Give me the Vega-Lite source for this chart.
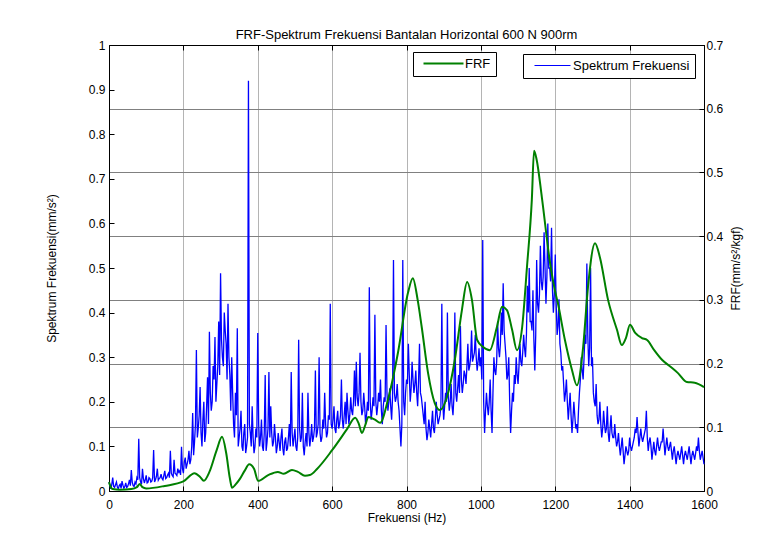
{
  "$schema": "https://vega.github.io/schema/vega-lite/v6.json",
  "width": 595,
  "height": 446,
  "autosize": "none",
  "padding": {"left": 109, "top": 45, "right": 77, "bottom": 59},
  "background": "white",
  "config": {
    "font": "Liberation Sans",
    "view": {"stroke": "black", "strokeWidth": 1},
    "axis": {"labelColor": "black", "titleColor": "black", "labelFontSize": 12, "titleFontSize": 12, "titleFontWeight": "normal", "tickColor": "black", "domainColor": "black", "tickSize": -5, "labelPadding": 9}
  },
  "title": {"text": "FRF-Spektrum Frekuensi Bantalan Horizontal 600 N 900rm", "fontSize": 13, "fontWeight": "normal", "color": "black", "offset": -3, "anchor": "middle"},
  "datasets": {
    "spec": [
{"f":0,"s":0.02},{"f":5,"s":0.005},{"f":10,"s":0.03},{"f":15,"s":0.008},{"f":20,"s":0.02},{"f":25,"s":0.005},{"f":30,"s":0.015},{"f":35,"s":0.022},{"f":40,"s":0.006},{"f":45,"s":0.018},
{"f":50,"s":0.01},{"f":55,"s":0.025},{"f":60,"s":0.047},{"f":65,"s":0.012},{"f":70,"s":0.02},{"f":75,"s":0.03},{"f":80,"s":0.117},{"f":85,"s":0.02},{"f":90,"s":0.05},{"f":95,"s":0.018},
{"f":100,"s":0.035},{"f":105,"s":0.02},{"f":110,"s":0.028},{"f":115,"s":0.022},{"f":120,"s":0.092},{"f":125,"s":0.025},{"f":130,"s":0.05},{"f":135,"s":0.028},{"f":140,"s":0.038},{"f":145,"s":0.025},
{"f":150,"s":0.045},{"f":155,"s":0.03},{"f":160,"s":0.04},{"f":165,"s":0.09},{"f":170,"s":0.035},{"f":175,"s":0.07},{"f":180,"s":0.038},{"f":185,"s":0.05},{"f":190,"s":0.045},{"f":195,"s":0.099},
{"f":200,"s":0.04},{"f":205,"s":0.075},{"f":210,"s":0.06},{"f":215,"s":0.09},{"f":220,"s":0.07},{"f":225,"s":0.175},{"f":230,"s":0.11},{"f":235,"s":0.316},{"f":240,"s":0.14},{"f":245,"s":0.233},
{"f":250,"s":0.1},{"f":255,"s":0.2},{"f":260,"s":0.13},{"f":265,"s":0.255},{"f":270,"s":0.357},{"f":275,"s":0.18},{"f":280,"s":0.28},{"f":285,"s":0.345},{"f":290,"s":0.24},{"f":295,"s":0.38},
{"f":300,"s":0.488},{"f":305,"s":0.3},{"f":310,"s":0.4},{"f":315,"s":0.33},{"f":320,"s":0.42},{"f":325,"s":0.26},{"f":330,"s":0.3},{"f":335,"s":0.15},{"f":340,"s":0.22},{"f":345,"s":0.365},
{"f":350,"s":0.12},{"f":355,"s":0.18},{"f":360,"s":0.09},{"f":365,"s":0.15},{"f":370,"s":0.1},{"f":375,"s":0.92},{"f":380,"s":0.13},{"f":385,"s":0.19},{"f":390,"s":0.085},{"f":395,"s":0.14},
{"f":400,"s":0.354},{"f":405,"s":0.1},{"f":410,"s":0.16},{"f":415,"s":0.09},{"f":420,"s":0.26},{"f":425,"s":0.11},{"f":430,"s":0.267},{"f":435,"s":0.19},{"f":440,"s":0.1},{"f":445,"s":0.15},
{"f":450,"s":0.085},{"f":455,"s":0.13},{"f":460,"s":0.09},{"f":465,"s":0.14},{"f":470,"s":0.08},{"f":475,"s":0.12},{"f":480,"s":0.095},{"f":485,"s":0.15},{"f":490,"s":0.267},{"f":495,"s":0.1},
{"f":500,"s":0.14},{"f":505,"s":0.09},{"f":510,"s":0.339},{"f":515,"s":0.11},{"f":520,"s":0.22},{"f":525,"s":0.08},{"f":530,"s":0.13},{"f":535,"s":0.22},{"f":540,"s":0.1},{"f":545,"s":0.15},
{"f":550,"s":0.12},{"f":555,"s":0.27},{"f":560,"s":0.13},{"f":565,"s":0.3},{"f":570,"s":0.11},{"f":575,"s":0.16},{"f":580,"s":0.22},{"f":585,"s":0.12},{"f":590,"s":0.17},{"f":595,"s":0.42},
{"f":600,"s":0.14},{"f":605,"s":0.19},{"f":610,"s":0.13},{"f":615,"s":0.18},{"f":620,"s":0.15},{"f":625,"s":0.25},{"f":630,"s":0.14},{"f":635,"s":0.2},{"f":640,"s":0.22},{"f":645,"s":0.15},
{"f":650,"s":0.21},{"f":655,"s":0.17},{"f":660,"s":0.27},{"f":665,"s":0.29},{"f":670,"s":0.19},{"f":675,"s":0.31},{"f":680,"s":0.17},{"f":685,"s":0.22},{"f":690,"s":0.15},{"f":695,"s":0.2},
{"f":700,"s":0.457},{"f":705,"s":0.16},{"f":710,"s":0.21},{"f":715,"s":0.395},{"f":720,"s":0.17},{"f":725,"s":0.22},{"f":730,"s":0.25},{"f":735,"s":0.15},{"f":740,"s":0.21},{"f":745,"s":0.372},
{"f":750,"s":0.18},{"f":755,"s":0.23},{"f":760,"s":0.16},{"f":765,"s":0.518},{"f":770,"s":0.2},{"f":775,"s":0.24},{"f":780,"s":0.18},{"f":785,"s":0.1},{"f":790,"s":0.518},{"f":795,"s":0.17},
{"f":800,"s":0.25},{"f":805,"s":0.33},{"f":810,"s":0.2},{"f":815,"s":0.29},{"f":820,"s":0.22},{"f":825,"s":0.27},{"f":830,"s":0.19},{"f":835,"s":0.33},{"f":840,"s":0.21},{"f":845,"s":0.17},
{"f":850,"s":0.2},{"f":855,"s":0.114},{"f":860,"s":0.16},{"f":865,"s":0.12},{"f":870,"s":0.18},{"f":875,"s":0.13},{"f":880,"s":0.2},{"f":885,"s":0.15},{"f":890,"s":0.17},{"f":895,"s":0.42},
{"f":900,"s":0.16},{"f":905,"s":0.22},{"f":910,"s":0.4},{"f":915,"s":0.18},{"f":920,"s":0.24},{"f":925,"s":0.17},{"f":930,"s":0.4},{"f":935,"s":0.2},{"f":940,"s":0.26},{"f":945,"s":0.37},
{"f":950,"s":0.22},{"f":955,"s":0.27},{"f":960,"s":0.24},{"f":965,"s":0.33},{"f":970,"s":0.28},{"f":975,"s":0.36},{"f":980,"s":0.3},{"f":985,"s":0.35},{"f":990,"s":0.27},{"f":995,"s":0.32},
{"f":1000,"s":0.3},{"f":1005,"s":0.563},{"f":1010,"s":0.13},{"f":1015,"s":0.22},{"f":1020,"s":0.17},{"f":1025,"s":0.25},{"f":1030,"s":0.13},{"f":1035,"s":0.3},{"f":1040,"s":0.26},{"f":1045,"s":0.38},
{"f":1050,"s":0.3},{"f":1055,"s":0.4},{"f":1060,"s":0.466},{"f":1065,"s":0.33},{"f":1070,"s":0.25},{"f":1075,"s":0.3},{"f":1080,"s":0.13},{"f":1085,"s":0.22},{"f":1090,"s":0.26},{"f":1095,"s":0.3},
{"f":1100,"s":0.24},{"f":1105,"s":0.33},{"f":1110,"s":0.28},{"f":1115,"s":0.35},{"f":1120,"s":0.3},{"f":1125,"s":0.46},{"f":1130,"s":0.5},{"f":1135,"s":0.38},{"f":1140,"s":0.45},{"f":1145,"s":0.27},
{"f":1150,"s":0.518},{"f":1155,"s":0.4},{"f":1160,"s":0.55},{"f":1165,"s":0.45},{"f":1170,"s":0.58},{"f":1175,"s":0.42},{"f":1180,"s":0.6},{"f":1185,"s":0.5},{"f":1190,"s":0.59},{"f":1195,"s":0.4},
{"f":1200,"s":0.53},{"f":1205,"s":0.35},{"f":1210,"s":0.43},{"f":1215,"s":0.31},{"f":1220,"s":0.28},{"f":1225,"s":0.2},{"f":1230,"s":0.25},{"f":1235,"s":0.16},{"f":1240,"s":0.22},{"f":1245,"s":0.13},
{"f":1250,"s":0.2},{"f":1255,"s":0.14},{"f":1260,"s":0.13},{"f":1265,"s":0.22},{"f":1270,"s":0.3},{"f":1275,"s":0.25},{"f":1280,"s":0.35},{"f":1285,"s":0.51},{"f":1290,"s":0.28},{"f":1295,"s":0.5},
{"f":1300,"s":0.3},{"f":1305,"s":0.2},{"f":1310,"s":0.24},{"f":1315,"s":0.15},{"f":1320,"s":0.2},{"f":1325,"s":0.12},{"f":1330,"s":0.18},{"f":1335,"s":0.13},{"f":1340,"s":0.19},{"f":1345,"s":0.11},
{"f":1350,"s":0.17},{"f":1355,"s":0.12},{"f":1360,"s":0.15},{"f":1365,"s":0.1},{"f":1370,"s":0.13},{"f":1375,"s":0.08},{"f":1380,"s":0.12},{"f":1385,"s":0.06},{"f":1390,"s":0.1},{"f":1395,"s":0.08},
{"f":1400,"s":0.12},{"f":1405,"s":0.09},{"f":1410,"s":0.11},{"f":1415,"s":0.14},{"f":1420,"s":0.166},{"f":1425,"s":0.1},{"f":1430,"s":0.14},{"f":1435,"s":0.11},{"f":1440,"s":0.13},{"f":1445,"s":0.18},
{"f":1450,"s":0.09},{"f":1455,"s":0.12},{"f":1460,"s":0.07},{"f":1465,"s":0.11},{"f":1470,"s":0.08},{"f":1475,"s":0.12},{"f":1480,"s":0.09},{"f":1485,"s":0.11},{"f":1490,"s":0.14},{"f":1495,"s":0.08},
{"f":1500,"s":0.12},{"f":1505,"s":0.09},{"f":1510,"s":0.11},{"f":1515,"s":0.07},{"f":1520,"s":0.1},{"f":1525,"s":0.06},{"f":1530,"s":0.09},{"f":1535,"s":0.07},{"f":1540,"s":0.1},{"f":1545,"s":0.06},
{"f":1550,"s":0.09},{"f":1555,"s":0.07},{"f":1560,"s":0.1},{"f":1565,"s":0.06},{"f":1570,"s":0.09},{"f":1575,"s":0.07},{"f":1580,"s":0.1},{"f":1585,"s":0.12},{"f":1590,"s":0.07},{"f":1595,"s":0.09},
{"f":1600,"s":0.06},
{"f":2.5,"s":0.012},{"f":7.5,"s":0.015},{"f":12.5,"s":0.01},{"f":17.5,"s":0.014},{"f":22.5,"s":0.009},{"f":27.5,"s":0.012},{"f":32.5,"s":0.006},{"f":37.5,"s":0.013},{"f":42.5,"s":0.01},{"f":47.5,"s":0.008},
{"f":52.5,"s":0.016},{"f":57.5,"s":0.012},{"f":62.5,"s":0.02},{"f":67.5,"s":0.01},{"f":72.5,"s":0.016},{"f":77.5,"s":0.025},{"f":82.5,"s":0.03},{"f":87.5,"s":0.015},{"f":92.5,"s":0.028},{"f":97.5,"s":0.025},
{"f":102.5,"s":0.018},{"f":107.5,"s":0.03},{"f":112.5,"s":0.02},{"f":117.5,"s":0.03},{"f":122.5,"s":0.02},{"f":127.5,"s":0.033},{"f":132.5,"s":0.024},{"f":137.5,"s":0.03},{"f":142.5,"s":0.028},{"f":147.5,"s":0.035},
{"f":152.5,"s":0.028},{"f":157.5,"s":0.036},{"f":162.5,"s":0.03},{"f":167.5,"s":0.04},{"f":172.5,"s":0.032},{"f":177.5,"s":0.04},{"f":182.5,"s":0.035},{"f":187.5,"s":0.042},{"f":192.5,"s":0.036},{"f":197.5,"s":0.05},
{"f":202.5,"s":0.065},{"f":207.5,"s":0.05},{"f":212.5,"s":0.07},{"f":217.5,"s":0.06},{"f":222.5,"s":0.1},{"f":227.5,"s":0.08},{"f":232.5,"s":0.15},{"f":237.5,"s":0.12},{"f":242.5,"s":0.17},{"f":247.5,"s":0.13},
{"f":252.5,"s":0.16},{"f":257.5,"s":0.11},{"f":262.5,"s":0.19},{"f":267.5,"s":0.15},{"f":272.5,"s":0.22},{"f":277.5,"s":0.2},{"f":282.5,"s":0.25},{"f":287.5,"s":0.2},{"f":292.5,"s":0.28},{"f":297.5,"s":0.26},
{"f":302.5,"s":0.34},{"f":307.5,"s":0.28},{"f":312.5,"s":0.36},{"f":317.5,"s":0.25},{"f":322.5,"s":0.3},{"f":327.5,"s":0.18},{"f":332.5,"s":0.22},{"f":337.5,"s":0.12},{"f":342.5,"s":0.17},{"f":347.5,"s":0.1},
{"f":352.5,"s":0.14},{"f":357.5,"s":0.1},{"f":362.5,"s":0.13},{"f":367.5,"s":0.085},{"f":372.5,"s":0.12},{"f":377.5,"s":0.15},{"f":382.5,"s":0.1},{"f":387.5,"s":0.12},{"f":392.5,"s":0.1},{"f":397.5,"s":0.12},
{"f":402.5,"s":0.15},{"f":407.5,"s":0.12},{"f":412.5,"s":0.1},{"f":417.5,"s":0.13},{"f":422.5,"s":0.09},{"f":427.5,"s":0.14},{"f":432.5,"s":0.12},{"f":437.5,"s":0.13},{"f":442.5,"s":0.11},{"f":447.5,"s":0.12},
{"f":452.5,"s":0.1},{"f":457.5,"s":0.11},{"f":462.5,"s":0.12},{"f":467.5,"s":0.095},{"f":472.5,"s":0.11},{"f":477.5,"s":0.09},{"f":482.5,"s":0.12},{"f":487.5,"s":0.1},{"f":492.5,"s":0.13},{"f":497.5,"s":0.12},
{"f":502.5,"s":0.1},{"f":507.5,"s":0.12},{"f":512.5,"s":0.14},{"f":517.5,"s":0.12},{"f":522.5,"s":0.1},{"f":527.5,"s":0.11},{"f":532.5,"s":0.1},{"f":537.5,"s":0.13},{"f":542.5,"s":0.12},{"f":547.5,"s":0.11},
{"f":552.5,"s":0.14},{"f":557.5,"s":0.12},{"f":562.5,"s":0.15},{"f":567.5,"s":0.13},{"f":572.5,"s":0.12},{"f":577.5,"s":0.14},{"f":582.5,"s":0.15},{"f":587.5,"s":0.13},{"f":592.5,"s":0.16},{"f":597.5,"s":0.15},
{"f":602.5,"s":0.16},{"f":607.5,"s":0.14},{"f":612.5,"s":0.16},{"f":617.5,"s":0.14},{"f":622.5,"s":0.17},{"f":627.5,"s":0.16},{"f":632.5,"s":0.17},{"f":637.5,"s":0.15},{"f":642.5,"s":0.18},{"f":647.5,"s":0.17},
{"f":652.5,"s":0.18},{"f":657.5,"s":0.2},{"f":662.5,"s":0.19},{"f":667.5,"s":0.21},{"f":672.5,"s":0.22},{"f":677.5,"s":0.2},{"f":682.5,"s":0.18},{"f":687.5,"s":0.19},{"f":692.5,"s":0.17},{"f":697.5,"s":0.18},
{"f":702.5,"s":0.2},{"f":707.5,"s":0.18},{"f":712.5,"s":0.19},{"f":717.5,"s":0.2},{"f":722.5,"s":0.19},{"f":727.5,"s":0.2},{"f":732.5,"s":0.18},{"f":737.5,"s":0.19},{"f":742.5,"s":0.2},{"f":747.5,"s":0.22},
{"f":752.5,"s":0.2},{"f":757.5,"s":0.19},{"f":762.5,"s":0.21},{"f":767.5,"s":0.22},{"f":772.5,"s":0.21},{"f":777.5,"s":0.2},{"f":782.5,"s":0.14},{"f":787.5,"s":0.15},{"f":792.5,"s":0.2},{"f":797.5,"s":0.22},
{"f":802.5,"s":0.24},{"f":807.5,"s":0.26},{"f":812.5,"s":0.23},{"f":817.5,"s":0.25},{"f":822.5,"s":0.24},{"f":827.5,"s":0.22},{"f":832.5,"s":0.25},{"f":837.5,"s":0.22},{"f":842.5,"s":0.19},{"f":847.5,"s":0.15},
{"f":852.5,"s":0.14},{"f":857.5,"s":0.13},{"f":862.5,"s":0.14},{"f":867.5,"s":0.15},{"f":872.5,"s":0.14},{"f":877.5,"s":0.16},{"f":882.5,"s":0.17},{"f":887.5,"s":0.16},{"f":892.5,"s":0.19},{"f":897.5,"s":0.2},
{"f":902.5,"s":0.19},{"f":907.5,"s":0.2},{"f":912.5,"s":0.21},{"f":917.5,"s":0.2},{"f":922.5,"s":0.19},{"f":927.5,"s":0.21},{"f":932.5,"s":0.22},{"f":937.5,"s":0.23},{"f":942.5,"s":0.22},{"f":947.5,"s":0.25},
{"f":952.5,"s":0.24},{"f":957.5,"s":0.26},{"f":962.5,"s":0.28},{"f":967.5,"s":0.27},{"f":972.5,"s":0.3},{"f":977.5,"s":0.29},{"f":982.5,"s":0.31},{"f":987.5,"s":0.3},{"f":992.5,"s":0.29},{"f":997.5,"s":0.28},
{"f":1002.5,"s":0.25},{"f":1007.5,"s":0.2},{"f":1012.5,"s":0.18},{"f":1017.5,"s":0.19},{"f":1022.5,"s":0.2},{"f":1027.5,"s":0.18},{"f":1032.5,"s":0.22},{"f":1037.5,"s":0.27},{"f":1042.5,"s":0.29},{"f":1047.5,"s":0.32},
{"f":1052.5,"s":0.33},{"f":1057.5,"s":0.35},{"f":1062.5,"s":0.36},{"f":1067.5,"s":0.3},{"f":1072.5,"s":0.26},{"f":1077.5,"s":0.2},{"f":1082.5,"s":0.18},{"f":1087.5,"s":0.2},{"f":1092.5,"s":0.24},{"f":1097.5,"s":0.26},
{"f":1102.5,"s":0.28},{"f":1107.5,"s":0.29},{"f":1112.5,"s":0.31},{"f":1117.5,"s":0.32},{"f":1122.5,"s":0.35},{"f":1127.5,"s":0.4},{"f":1132.5,"s":0.38},{"f":1137.5,"s":0.36},{"f":1142.5,"s":0.34},{"f":1147.5,"s":0.35},
{"f":1152.5,"s":0.42},{"f":1157.5,"s":0.44},{"f":1162.5,"s":0.47},{"f":1167.5,"s":0.48},{"f":1172.5,"s":0.5},{"f":1177.5,"s":0.48},{"f":1182.5,"s":0.5},{"f":1187.5,"s":0.47},{"f":1192.5,"s":0.45},{"f":1197.5,"s":0.44},
{"f":1202.5,"s":0.42},{"f":1207.5,"s":0.37},{"f":1212.5,"s":0.33},{"f":1217.5,"s":0.27},{"f":1222.5,"s":0.24},{"f":1227.5,"s":0.22},{"f":1232.5,"s":0.2},{"f":1237.5,"s":0.19},{"f":1242.5,"s":0.17},{"f":1247.5,"s":0.16},
{"f":1252.5,"s":0.17},{"f":1257.5,"s":0.15},{"f":1262.5,"s":0.18},{"f":1267.5,"s":0.25},{"f":1272.5,"s":0.27},{"f":1277.5,"s":0.3},{"f":1282.5,"s":0.33},{"f":1287.5,"s":0.35},{"f":1292.5,"s":0.32},{"f":1297.5,"s":0.28},
{"f":1302.5,"s":0.22},{"f":1307.5,"s":0.19},{"f":1312.5,"s":0.17},{"f":1317.5,"s":0.16},{"f":1322.5,"s":0.15},{"f":1327.5,"s":0.14},{"f":1332.5,"s":0.15},{"f":1337.5,"s":0.14},{"f":1342.5,"s":0.13},{"f":1347.5,"s":0.14},
{"f":1352.5,"s":0.13},{"f":1357.5,"s":0.12},{"f":1362.5,"s":0.12},{"f":1367.5,"s":0.11},{"f":1372.5,"s":0.1},{"f":1377.5,"s":0.1},{"f":1382.5,"s":0.09},{"f":1387.5,"s":0.08},{"f":1392.5,"s":0.09},{"f":1397.5,"s":0.09},
{"f":1402.5,"s":0.1},{"f":1407.5,"s":0.1},{"f":1412.5,"s":0.12},{"f":1417.5,"s":0.13},{"f":1422.5,"s":0.13},{"f":1427.5,"s":0.12},{"f":1432.5,"s":0.12},{"f":1437.5,"s":0.12},{"f":1442.5,"s":0.14},{"f":1447.5,"s":0.12},
{"f":1452.5,"s":0.11},{"f":1457.5,"s":0.1},{"f":1462.5,"s":0.09},{"f":1467.5,"s":0.09},{"f":1472.5,"s":0.1},{"f":1477.5,"s":0.1},{"f":1482.5,"s":0.1},{"f":1487.5,"s":0.11},{"f":1492.5,"s":0.11},{"f":1497.5,"s":0.1},
{"f":1502.5,"s":0.1},{"f":1507.5,"s":0.1},{"f":1512.5,"s":0.09},{"f":1517.5,"s":0.09},{"f":1522.5,"s":0.08},{"f":1527.5,"s":0.08},{"f":1532.5,"s":0.08},{"f":1537.5,"s":0.085},{"f":1542.5,"s":0.08},{"f":1547.5,"s":0.08},
{"f":1552.5,"s":0.08},{"f":1557.5,"s":0.085},{"f":1562.5,"s":0.08},{"f":1567.5,"s":0.08},{"f":1572.5,"s":0.08},{"f":1577.5,"s":0.085},{"f":1582.5,"s":0.09},{"f":1587.5,"s":0.09},{"f":1592.5,"s":0.08},{"f":1597.5,"s":0.075}
    ],
    "frf": [
{"f":0,"r":0.014},{"f":5,"r":0.006},{"f":10,"r":0.003},{"f":30,"r":0.002},{"f":60,"r":0.003},{"f":75,"r":0.006},{"f":83,"r":0.011},{"f":90,"r":0.006},{"f":100,"r":0.004},{"f":150,"r":0.008},
{"f":200,"r":0.015},{"f":230,"r":0.028},{"f":245,"r":0.022},{"f":255,"r":0.016},{"f":270,"r":0.03},{"f":290,"r":0.065},{"f":304,"r":0.085},{"f":315,"r":0.06},{"f":325,"r":0.02},{"f":331,"r":0.005},
{"f":340,"r":0.01},{"f":352,"r":0.019},{"f":365,"r":0.032},{"f":377,"r":0.042},{"f":390,"r":0.035},{"f":401,"r":0.016},{"f":428,"r":0.025},{"f":454,"r":0.03},{"f":470,"r":0.027},{"f":492,"r":0.033},
{"f":508,"r":0.03},{"f":527,"r":0.024},{"f":540,"r":0.025},{"f":560,"r":0.035},{"f":600,"r":0.064},{"f":640,"r":0.097},{"f":662,"r":0.115},{"f":672,"r":0.105},{"f":680,"r":0.091},{"f":690,"r":0.105},
{"f":697,"r":0.116},{"f":715,"r":0.112},{"f":729,"r":0.107},{"f":750,"r":0.143},{"f":777,"r":0.217},{"f":804,"r":0.311},{"f":817,"r":0.334},{"f":830,"r":0.3},{"f":841,"r":0.257},{"f":858,"r":0.185},
{"f":876,"r":0.138},{"f":890,"r":0.127},{"f":909,"r":0.148},{"f":930,"r":0.206},{"f":949,"r":0.284},{"f":963,"r":0.328},{"f":976,"r":0.3},{"f":990,"r":0.237},{"f":1006,"r":0.226},{"f":1024,"r":0.221},
{"f":1043,"r":0.257},{"f":1057,"r":0.289},{"f":1070,"r":0.284},{"f":1084,"r":0.253},{"f":1097,"r":0.221},{"f":1111,"r":0.257},{"f":1124,"r":0.352},{"f":1137,"r":0.457},{"f":1143,"r":0.534},{"f":1150,"r":0.52},
{"f":1164,"r":0.461},{"f":1186,"r":0.358},{"f":1199,"r":0.315},{"f":1207,"r":0.295},{"f":1226,"r":0.237},{"f":1245,"r":0.19},{"f":1258,"r":0.166},{"f":1275,"r":0.226},{"f":1288,"r":0.32},{"f":1307,"r":0.389},
{"f":1320,"r":0.367},{"f":1342,"r":0.3},{"f":1366,"r":0.253},{"f":1379,"r":0.229},{"f":1390,"r":0.24},{"f":1401,"r":0.261},{"f":1415,"r":0.248},{"f":1433,"r":0.24},{"f":1447,"r":0.237},{"f":1465,"r":0.222},
{"f":1487,"r":0.206},{"f":1510,"r":0.195},{"f":1530,"r":0.185},{"f":1554,"r":0.171},{"f":1575,"r":0.17},{"f":1600,"r":0.163}
    ]
  },
  "layer": [
    {
      "data": {"name": "spec"},
      "mark": {"type": "line", "strokeWidth": 1.3, "interpolate": "linear"},
      "encoding": {
        "x": {"field": "f", "type": "quantitative", "sort": "ascending", "scale": {"domain": [0, 1600], "nice": false},
              "axis": {"orient": "bottom", "values": [0,200,400,600,800,1000,1200,1400,1600], "format": "d", "labelFlush": false, "labelPadding": 13, "grid": true, "gridColor": "#b4b4b4", "gridOpacity": 1, "title": "Frekuensi (Hz)", "titlePadding": 2}},
        "y": {"field": "s", "type": "quantitative", "scale": {"domain": [0, 1], "nice": false},
              "axis": {"orient": "left", "values": [0,0.1,0.2,0.3,0.4,0.5,0.6,0.7,0.8,0.9,1], "format": ".1~f", "grid": false, "title": "Spektrum Frekuensi(mm/s²)", "titlePadding": 30, "labelPadding": 9}},
        "color": {"datum": "Spektrum Frekuensi", "type": "nominal", "scale": {"range": ["#0000ff"]},
                  "legend": {"orient": "none", "legendX": 414, "legendY": 9, "title": null, "strokeColor": "black", "fillColor": "white", "padding": 5, "cornerRadius": 0, "labelFontSize": 13, "labelColor": "black", "symbolType": "M-4.5,0H4.5", "symbolSize": 64, "symbolStrokeWidth": 1.2, "symbolStrokeColor": "#4444ff", "symbolOffset": 18, "labelOffset": 14}}
      }
    },
    {
      "data": {"name": "frf"},
      "mark": {"type": "line", "strokeWidth": 2, "interpolate": "monotone"},
      "encoding": {
        "x": {"field": "f", "type": "quantitative", "axis": {"orient": "top", "values": [0,200,400,600,800,1000,1200,1400,1600], "labels": false, "grid": false, "title": null}},
        "y": {"field": "r", "type": "quantitative", "scale": {"domain": [0, 0.7], "nice": false},
              "axis": {"orient": "right", "values": [0,0.1,0.2,0.3,0.4,0.5,0.6,0.7], "format": ".1~f", "grid": true, "gridColor": "#808080", "gridOpacity": 1, "title": "FRF(mm/s²/kgf)", "titleAngle": 270, "titleBaseline": "top", "titlePadding": 8, "labelPadding": 7}},
        "color": {"datum": "FRF", "type": "nominal", "scale": {"range": ["#008000"]},
                  "legend": {"orient": "none", "legendX": 304, "legendY": 7, "title": null, "strokeColor": "black", "fillColor": "white", "padding": 5, "cornerRadius": 0, "labelFontSize": 13, "labelColor": "black", "symbolType": "M-5,0H5", "symbolSize": 64, "symbolStrokeWidth": 2, "symbolOffset": 19, "labelOffset": 15}}
      }
    }
  ],
  "resolve": {"scale": {"y": "independent", "color": "independent"}, "axis": {"x": "independent"}, "legend": {"color": "independent"}}
}
